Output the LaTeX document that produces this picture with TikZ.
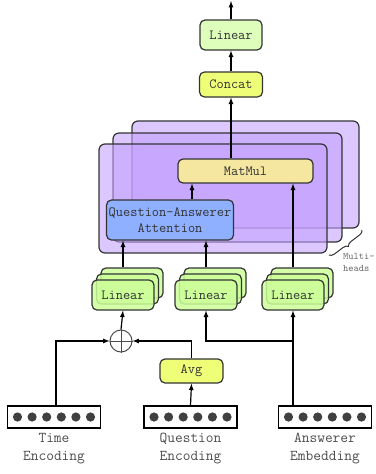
\documentclass[tikz,border=0pt]{standalone}
\usepackage{fontspec}
\usetikzlibrary{calc,decorations.pathreplacing}
\definecolor{lingreen}{HTML}{CCFF99}
\definecolor{outgreen}{HTML}{DDFFBB}
\definecolor{limeyel}{HTML}{EEFF77}
\definecolor{matyel}{HTML}{F5E6A0}
\definecolor{attblue}{HTML}{8FB0FF}
\definecolor{headviolet}{HTML}{C4A2FF}
\definecolor{edge}{HTML}{333333}
\tikzset{
  blk/.style={draw=edge, line width=1.2pt, rounded corners=5pt, inner sep=0pt,
    align=center, text=edge, font=\ttfamily\fontsize{14}{15.5}\selectfont},
  linbox/.style={blk, fill=lingreen, minimum width=62pt, minimum height=30pt},
  headbox/.style={draw=edge, line width=1.2pt, rounded corners=6pt, fill=headviolet, fill opacity=0.6},
  encbox/.style={draw=black, line width=1.5pt, fill=white, minimum width=93pt, minimum height=22pt, inner sep=0pt},
  lbl/.style={align=center, text=black!70, font=\ttfamily\fontsize{15}{18}\selectfont},
  arr/.style={-latex, line width=1.2pt, draw=black},
}

\begin{document}
\begin{tikzpicture}[x=1pt, y=-1pt]
  \useasboundingbox (0,0) rectangle (375,474);

  %% heads
  \draw[headbox] (132,121) rectangle (359,228);
  \draw[headbox] (113,133) rectangle (342,242);
  \draw[headbox] (99,144) rectangle (327,253);

  \node[blk, fill=matyel, minimum width=135pt, minimum height=24pt] (matmul) at (245.5,171) {MatMul};
  \node[blk, fill=attblue, minimum width=127pt, minimum height=40pt] (qaatt) at (170,220) {Question-Answerer\\Attention};

  %% output part
  \node[blk, fill=limeyel, minimum width=63pt, minimum height=25pt] (concat) at (231,84.5) {Concat};
  \node[blk, fill=outgreen, minimum width=62pt, minimum height=30pt] (linout) at (231,35) {Linear};
  \coordinate (out) at (231,1);

  %% linear stacks
  \foreach \n/\x in {linL/123, linM/206, linR/293} {
    \node[linbox, fill opacity=0.85] (\n3) at ({\x+9},283) {};
    \node[linbox, fill opacity=0.85] (\n2) at ({\x+4.5},289) {};
    \node[linbox, fill opacity=0.85, text opacity=1] (\n) at (\x,295) {Linear};
  }

  \node[circle, draw=black!70, line width=1pt, minimum size=22pt, inner sep=0pt] (oplus) at (121,341) {};
  \draw[black!70, line width=1pt] (oplus.north) -- (oplus.south) (oplus.west) -- (oplus.east);

  \node[blk, fill=limeyel, minimum width=63pt, minimum height=24pt] (avg) at (191.5,371) {Avg};

  %% inputs
  \node[encbox] (time) at (54,417) {};
  \node[encbox] (quest) at (190.5,417) {};
  \node[encbox] (answ) at (325,417) {};
  \foreach \e in {time, quest, answ}
    \foreach \k in {-2.5,-1.5,...,2.5}
      \fill[black!75] ($(\e)+(\k*14.6,0)$) circle (4.6);

  \node[lbl] (timelbl) at (54,449) {Time\\Encoding};
  \node[lbl] (questlbl) at (190.5,449) {Question\\Encoding};
  \node[lbl] (answlbl) at (325,449) {Answerer\\Embedding};

  %% connectors
  \draw[arr] ([xshift=2pt]time.north) |- (oplus.west);
  \draw[arr] (quest.north) -- (avg.south);
  \draw[arr] (avg.north) |- (oplus.east);
  \draw[arr] (oplus.north) -- (linL.south);
  \coordinate (split) at (293,341);
  \draw[arr] (answ.north -| linR) -- (linR.south);
  \draw[arr] (split) -| (linM.south);

  \draw[arr] (linL3.north -| linL) -- (qaatt.south -| linL);
  \draw[arr] (linM3.north -| linM) -- (qaatt.south -| linM);
  \draw[arr] (linR3.north -| linR) -- (matmul.south -| linR);
  \draw[arr] ([xshift=22pt]qaatt.north) -- ([xshift=22pt]qaatt.north |- matmul.south);
  \draw[arr] (matmul.north -| concat) -- (concat.south);
  \draw[arr] (concat.north) -- (linout.south);
  \draw[arr] (linout.north) -- (out);

  %% multi-heads brace
  \draw[decorate, decoration={brace, amplitude=5pt, mirror}, line width=1pt, edge] (329,255) -- (362,230);
  \node[align=left, anchor=north west, text=black!60, inner sep=0pt,
    font=\ttfamily\fontsize{10}{12}\selectfont] (mh) at (343,253) {Multi-\\heads};
\end{tikzpicture}
\end{document}
